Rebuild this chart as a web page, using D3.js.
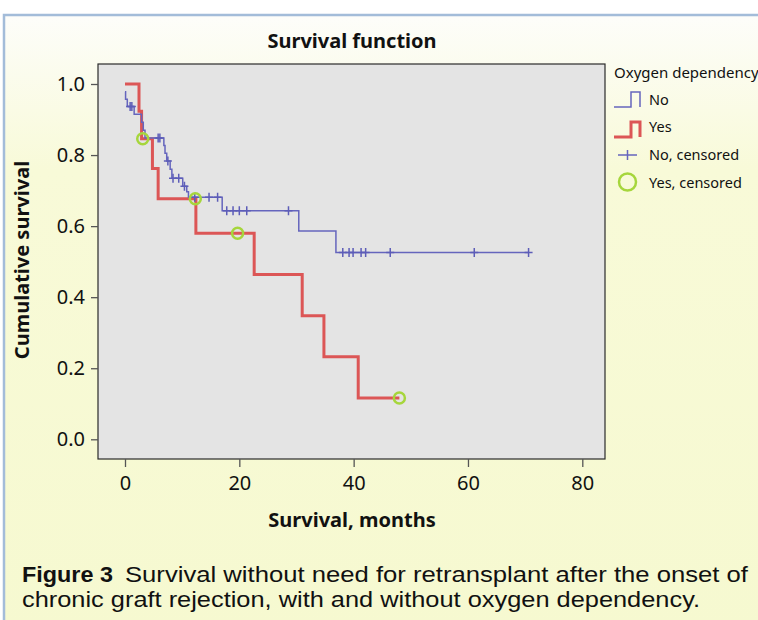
<!DOCTYPE html>
<html>
<head>
<meta charset="utf-8">
<script src="https://cdn.jsdelivr.net/npm/d3@7"></script>
<style>
  body { margin: 0; background: #ffffff; }
  svg { display: block; font-family: "Noto Sans", "Open Sans", sans-serif; }
</style>
</head>
<body>
<svg id="chart"></svg>
<script>
// Kaplan-Meier steps (months, cumulative survival)
var noTimes = [0, 0.1, 0.4, 1.6, 2.9, 3.2, 3.5, 6.8, 7.0, 7.3, 7.9, 8.2, 10.1, 10.8, 11.1, 17.0, 30.4, 36.9];
var noSurv = [0.978, 0.957, 0.937, 0.915, 0.892, 0.870, 0.848, 0.827, 0.805, 0.783, 0.760, 0.735, 0.712, 0.697, 0.681, 0.643, 0.586, 0.526];
var noCensored = [0.9, 1.2, 5.8, 6.1, 7.5, 8.4, 9.4, 10.4, 12.2, 14.7, 16.2, 17.8, 18.9, 20.0, 21.3, 28.6, 38.1, 39.2, 39.9, 41.3, 42.1, 46.4, 61.1, 70.6];

var yesTimes = [0, 2.45, 2.9, 4.8, 5.8, 12.4, 22.6, 31.0, 34.8, 40.8];
var yesSurv = [1.0, 0.923, 0.846, 0.762, 0.677, 0.580, 0.464, 0.348, 0.232, 0.116];
var yesCensored = [3.1, 12.3, 19.7, 48.0];

var xTicks = [0, 20, 40, 60, 80];
var yTicks = [0, 0.2, 0.4, 0.6, 0.8, 1.0];
var legendLabels = ["No", "Yes", "No, censored", "Yes, censored"];

var W = 758, H = 620;
var box = {left: 98, right: 605, top: 64, bottom: 459};

var svg = d3.select("#chart").attr("width", W).attr("height", H);

// page background + frame
var defs = svg.append("defs");
var grad = defs.append("linearGradient").attr("id", "bg")
  .attr("x1", 0).attr("y1", 0).attr("x2", 0).attr("y2", 1);
grad.append("stop").attr("offset", "0%").attr("stop-color", "#fdfdfa");
grad.append("stop").attr("offset", "25%").attr("stop-color", "#f8fad8");
grad.append("stop").attr("offset", "100%").attr("stop-color", "#f6f9d0");

svg.append("rect").attr("x", 4).attr("y", 15).attr("width", W).attr("height", H)
  .attr("fill", "url(#bg)");
svg.append("path").attr("d", "M4,620 V15 H758")
  .attr("fill", "none").attr("stroke", "#a3bcd9").attr("stroke-width", 2.5);

var x = d3.scaleLinear().domain([0, 80]).range([125, 582.3]);
var y = d3.scaleLinear().domain([0, 1]).range([439.3, 84]);

svg.append("rect").attr("x", box.left).attr("y", box.top)
  .attr("width", box.right - box.left).attr("height", box.bottom - box.top)
  .attr("fill", "#e4e4e4").attr("stroke", "#2a2a2a").attr("stroke-width", 1.2);

// axes
var yAxis = svg.append("g").attr("transform", "translate(" + box.left + ",0)")
  .call(d3.axisLeft(y).tickValues(yTicks).tickFormat(d3.format(".1f")).tickSize(7).tickPadding(6));
var xAxis = svg.append("g").attr("transform", "translate(0," + box.bottom + ")")
  .call(d3.axisBottom(x).tickValues(xTicks).tickSize(8).tickPadding(9));
[xAxis, yAxis].forEach(function(a) {
  a.select(".domain").remove();
  a.selectAll(".tick line").attr("stroke", "#555").attr("stroke-width", 1.3);
  a.selectAll(".tick text").attr("fill", "#111").style("font-size", "20px")
    .style("font-family", "'Noto Sans', sans-serif");
});

// survival curves
function steps(times, surv, end) {
  var pts = times.map(function(t, i) { return [t, surv[i]]; });
  pts.push([end, surv[surv.length - 1]]);
  return pts;
}
function level(times, surv, t) {
  var s = surv[0];
  times.forEach(function(tt, i) { if (tt <= t) s = surv[i]; });
  return s;
}
var line = d3.line().x(function(d) { return x(d[0]); }).y(function(d) { return y(d[1]); })
  .curve(d3.curveStepAfter);

svg.append("path").datum(steps(yesTimes, yesSurv, d3.max(yesCensored)))
  .attr("d", line).attr("fill", "none").attr("stroke", "#dc5656").attr("stroke-width", 3);
svg.append("path").datum(steps(noTimes, noSurv, d3.max(noCensored)))
  .attr("d", line).attr("fill", "none").attr("stroke", "#6565bd").attr("stroke-width", 1.5);

svg.selectAll(".cross").data(noCensored).enter().append("path")
  .attr("class", "cross")
  .attr("d", function(t) {
    var cx = x(t), cy = y(level(noTimes, noSurv, t));
    return "M" + (cx - 4) + "," + cy + "H" + (cx + 4) + "M" + cx + "," + (cy - 4.5) + "V" + (cy + 4.5);
  })
  .attr("stroke", "#5d5db8").attr("stroke-width", 1.5).attr("fill", "none");

svg.selectAll(".circ").data(yesCensored).enter().append("circle")
  .attr("class", "circ")
  .attr("cx", function(t) { return x(t); })
  .attr("cy", function(t) { return y(level(yesTimes, yesSurv, t)); })
  .attr("r", 5.5).attr("fill", "none").attr("stroke", "#a6d63c").attr("stroke-width", 2.5);

// titles
svg.append("text").attr("x", 352).attr("y", 48).attr("text-anchor", "middle")
  .style("font-size", "20px").style("font-weight", "bold").attr("fill", "#111")
  .text("Survival function");
svg.append("text").attr("x", 352).attr("y", 527).attr("text-anchor", "middle")
  .style("font-size", "20px").style("font-weight", "bold").attr("fill", "#111")
  .text("Survival, months");
svg.append("text").attr("transform", "translate(29,260) rotate(-90)").attr("text-anchor", "middle")
  .style("font-size", "20px").style("font-weight", "bold").attr("fill", "#111")
  .text("Cumulative survival");

// legend
var lg = svg.append("g");
lg.append("text").attr("x", 614).attr("y", 78).style("font-size", "15px").attr("fill", "#111")
  .text("Oxygen dependency");
lg.append("path").attr("d", "M614,107 H631 V92 H640 V107")
  .attr("fill", "none").attr("stroke", "#6565bd").attr("stroke-width", 1.5);
lg.append("path").attr("d", "M614,137 H631 V122 H640 V137")
  .attr("fill", "none").attr("stroke", "#dc5656").attr("stroke-width", 3);
lg.append("path").attr("d", "M618,155 H637 M627.5,150 V160")
  .attr("fill", "none").attr("stroke", "#6565bd").attr("stroke-width", 1.5);
lg.append("circle").attr("cx", 627.5).attr("cy", 182).attr("r", 8.5)
  .attr("fill", "none").attr("stroke", "#a6d63c").attr("stroke-width", 2.5);
lg.selectAll(".lt").data(legendLabels).enter().append("text")
  .attr("x", 649).attr("y", function(d, i) { return [105, 132, 160, 188][i]; })
  .style("font-size", "14.5px").attr("fill", "#111")
  .text(function(d) { return d; });

// caption (compact font metrics so the two tight lines don't collide)
var cap = svg.append("g").style("font-size", "22px").attr("fill", "#111")
  .style("font-family", "'Liberation Sans', Arial, sans-serif");
cap.append("text").attr("x", 22).attr("y", 582)
  .style("font-weight", "bold").attr("textLength", 91).attr("lengthAdjust", "spacingAndGlyphs")
  .text("Figure 3");
cap.append("text").attr("x", 125).attr("y", 582)
  .attr("textLength", 623).attr("lengthAdjust", "spacingAndGlyphs")
  .text("Survival without need for retransplant after the onset of");
cap.append("text").attr("x", 22).attr("y", 607)
  .attr("textLength", 678).attr("lengthAdjust", "spacingAndGlyphs")
  .text("chronic graft rejection, with and without oxygen dependency.");
</script>
</body>
</html>
